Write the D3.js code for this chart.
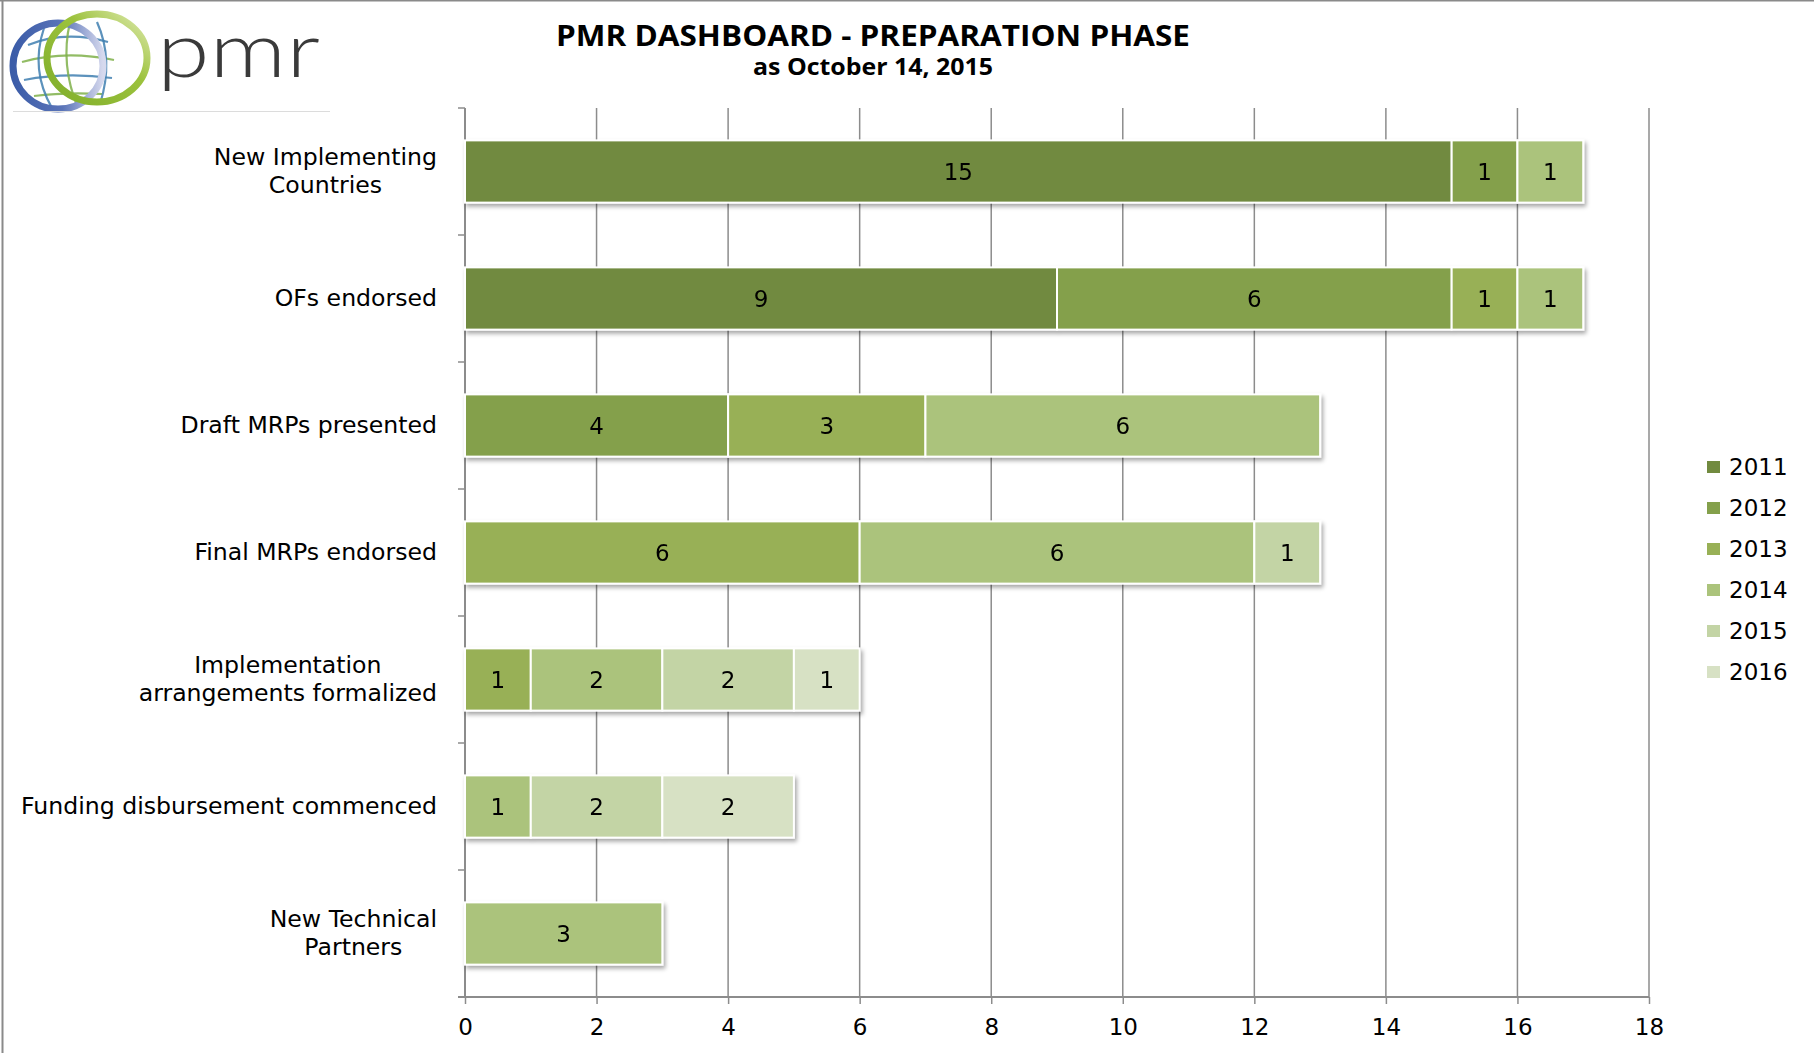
<!DOCTYPE html>
<html>
<head>
<meta charset="utf-8">
<script src="https://d3js.org/d3.v7.min.js"></script>
<style>
  html, body { margin: 0; padding: 0; background: #fff; }
  svg { display: block; }
</style>
</head>
<body>
<div id="chart"></div>
<script>
// categories, top to bottom
var categories = [
    ["New Implementing", "Countries"],
    ["OFs endorsed"],
    ["Draft MRPs presented"],
    ["Final MRPs endorsed"],
    ["Implementation", "arrangements formalized"],
    ["Funding disbursement commenced"],
    ["New Technical", "Partners"]
];

var years = ["2011", "2012", "2013", "2014", "2015", "2016"];

// counts per year, same order as categories
var s2011 = [15, 9, 0, 0, 0, 0, 0];
var s2012 = [1, 6, 4, 0, 0, 0, 0];
var s2013 = [0, 1, 3, 6, 1, 0, 0];
var s2014 = [1, 1, 6, 6, 2, 1, 3];
var s2015 = [0, 0, 0, 1, 2, 2, 0];
var s2016 = [0, 0, 0, 0, 1, 2, 0];

var yearColors = ["#718a3f", "#84a04b", "#98b056", "#abc37b", "#c3d4a5", "#d7e1c4"];
var xTicks = [0, 2, 4, 6, 8, 10, 12, 14, 16, 18];

var W = 1814, H = 1053;
var plotLeft = 465, plotRight = 1649, plotTop = 108, plotBottom = 997;

var svg = d3.select("#chart").append("svg")
              .attr("width", W)
              .attr("height", H);

var defs = svg.append("defs");
defs.append("filter")
      .attr("id", "shadow")
      .attr("x", "-5%").attr("y", "-20%")
      .attr("width", "110%").attr("height", "150%")
    .append("feDropShadow")
      .attr("dx", 2).attr("dy", 3)
      .attr("stdDeviation", 2)
      .attr("flood-color", "#000")
      .attr("flood-opacity", 0.35);

// frame lines (left + top)
svg.append("line").attr("x1", 2.5).attr("x2", 2.5).attr("y1", 0).attr("y2", H)
     .attr("stroke", "#8a8a8a").attr("stroke-width", 2);
svg.append("line").attr("x1", 0).attr("x2", W).attr("y1", 0.5).attr("y2", 0.5)
     .attr("stroke", "#8a8a8a").attr("stroke-width", 2);

// ---- logo ----
var blueGrad = defs.append("linearGradient").attr("id", "blueGrad")
                     .attr("x1", "0%").attr("x2", "100%").attr("y1", "0%").attr("y2", "0%");
blueGrad.append("stop").attr("offset", "0%").attr("stop-color", "#3b5ca8");
blueGrad.append("stop").attr("offset", "55%").attr("stop-color", "#5a74b8");
blueGrad.append("stop").attr("offset", "100%").attr("stop-color", "#d6d9ee");

var greenGrad = defs.append("linearGradient").attr("id", "greenGrad")
                      .attr("x1", "0%").attr("x2", "100%").attr("y1", "100%").attr("y2", "0%");
greenGrad.append("stop").attr("offset", "0%").attr("stop-color", "#7fae2a");
greenGrad.append("stop").attr("offset", "60%").attr("stop-color", "#9cc23d");
greenGrad.append("stop").attr("offset", "100%").attr("stop-color", "#dfeab0");

var logo = svg.append("g");
var globe = [
    "M28,45 Q65,30 108,42", "M22,62 Q65,50 114,60", "M24,80 Q65,72 112,78", "M34,96 Q65,92 102,94",
    "M44,28 Q30,70 52,108", "M70,22 Q60,65 78,108", "M97,22 Q114,60 100,104"
];
logo.selectAll("path.globe")
      .data(globe)
    .enter().append("path")
      .attr("d", d => d)
      .attr("fill", "none")
      .attr("stroke", (d, i) => i % 2 ? "#7fb04a" : "#3f7fb0")
      .attr("stroke-width", 2.2)
      .attr("opacity", 0.85);
logo.append("ellipse")
      .attr("cx", 58).attr("cy", 66).attr("rx", 45).attr("ry", 43)
      .attr("fill", "none").attr("stroke", "url(#blueGrad)").attr("stroke-width", 7);
logo.append("ellipse")
      .attr("cx", 97).attr("cy", 58).attr("rx", 50).attr("ry", 44)
      .attr("fill", "none").attr("stroke", "url(#greenGrad)").attr("stroke-width", 7);
logo.append("text")
      .attr("x", 157).attr("y", 77)
      .attr("textLength", 163)
      .attr("lengthAdjust", "spacingAndGlyphs")
      .style("font-family", "Lato, 'Open Sans', sans-serif")
      .style("font-weight", 300)
      .style("font-size", "76px")
      .style("fill", "#3a3a3a")
      .text("pmr");
logo.append("line").attr("x1", 13).attr("x2", 330).attr("y1", 111.5).attr("y2", 111.5)
      .attr("stroke", "#dcdcdc").attr("stroke-width", 1);

// ---- title ----
svg.append("text")
     .attr("x", 873).attr("y", 46)
     .attr("text-anchor", "middle")
     .attr("textLength", 634)
     .attr("lengthAdjust", "spacingAndGlyphs")
     .style("font-family", "'Open Sans', sans-serif")
     .style("font-weight", "bold")
     .style("font-size", "29px")
     .text("PMR DASHBOARD - PREPARATION PHASE");
svg.append("text")
     .attr("x", 873).attr("y", 75)
     .attr("text-anchor", "middle")
     .attr("textLength", 240)
     .attr("lengthAdjust", "spacingAndGlyphs")
     .style("font-family", "'Open Sans', sans-serif")
     .style("font-weight", "bold")
     .style("font-size", "23px")
     .text("as October 14, 2015");

// ---- scales ----
var x = d3.scaleLinear().domain([0, 18]).range([plotLeft, plotRight]);
var y = d3.scaleBand()
            .domain(d3.range(categories.length))
            .range([plotTop, plotBottom])
            .paddingInner(0.51)
            .paddingOuter(0.255);

var table = categories.map((c, i) => ({
    i: i,
    "2011": s2011[i], "2012": s2012[i], "2013": s2013[i],
    "2014": s2014[i], "2015": s2015[i], "2016": s2016[i]
}));
var stacked = d3.stack().keys(years)(table);
var color = d3.scaleOrdinal().domain(years).range(yearColors);

// gridlines
svg.append("g")
     .selectAll("line")
     .data(xTicks.slice(1))
   .enter().append("line")
     .attr("x1", d => x(d)).attr("x2", d => x(d))
     .attr("y1", plotTop).attr("y2", plotBottom)
     .attr("stroke", "#8c8c8c")
     .attr("stroke-width", 1.5);

// x axis
var xAxis = svg.append("g")
                 .attr("transform", "translate(0," + plotBottom + ")")
                 .call(d3.axisBottom(x).tickValues(xTicks).tickSize(7).tickSizeOuter(0).tickPadding(15));
xAxis.select(".domain").attr("stroke", "#8c8c8c").attr("stroke-width", 2)
       .attr("d", "M" + (plotLeft - 7) + ",0H" + plotRight);
xAxis.selectAll(".tick line").attr("stroke", "#8c8c8c").attr("stroke-width", 1.5);
xAxis.selectAll(".tick text")
       .style("font-family", "'DejaVu Sans', sans-serif")
       .style("font-size", "23px")
       .style("fill", "#000");

// y axis line + boundary ticks
svg.append("line")
     .attr("x1", plotLeft).attr("x2", plotLeft).attr("y1", plotTop).attr("y2", plotBottom)
     .attr("stroke", "#8c8c8c").attr("stroke-width", 2);
svg.append("g")
     .selectAll("line")
     .data(d3.range(categories.length + 1))
   .enter().append("line")
     .attr("x1", plotLeft - 7).attr("x2", plotLeft)
     .attr("y1", d => plotTop + d * y.step())
     .attr("y2", d => plotTop + d * y.step())
     .attr("stroke", "#8c8c8c").attr("stroke-width", 1.5);

// category labels (multi-line blocks centred, block right-aligned)
var labelRight = 437;
categories.forEach(function(lines, i) {
    var cy = y(i) + y.bandwidth() / 2;
    var g = svg.append("g");
    var texts = g.selectAll("text")
                   .data(lines)
                 .enter().append("text")
                   .attr("y", (d, k) => cy + 7 + (k - (lines.length - 1) / 2) * 28)
                   .attr("text-anchor", "middle")
                   .style("font-family", "'DejaVu Sans', sans-serif")
                   .style("font-size", "23.6px")
                   .style("fill", "#000")
                   .text(d => d);
    var maxW = d3.max(texts.nodes(), n => n.getComputedTextLength());
    texts.attr("x", labelRight - maxW / 2);
});

// bars
var rows = svg.append("g").selectAll("g.row")
                .data(categories.map((c, i) => i))
              .enter().append("g")
                .attr("class", "row")
                .attr("filter", "url(#shadow)");

rows.selectAll("rect")
      .data(i => stacked.map(s => ({ key: s.key, v: s[i] })).filter(d => d.v[1] > d.v[0]))
    .enter().append("rect")
      .attr("x", d => x(d.v[0]))
      .attr("y", d => y(d.v.data.i))
      .attr("width", d => x(d.v[1]) - x(d.v[0]))
      .attr("height", y.bandwidth())
      .attr("fill", d => color(d.key))
      .attr("stroke", "#fff")
      .attr("stroke-width", 2);

rows.selectAll("text")
      .data(i => stacked.map(s => ({ key: s.key, v: s[i] })).filter(d => d.v[1] > d.v[0]))
    .enter().append("text")
      .attr("x", d => x((d.v[0] + d.v[1]) / 2))
      .attr("y", d => y(d.v.data.i) + y.bandwidth() / 2 + 8)
      .attr("text-anchor", "middle")
      .style("font-family", "'DejaVu Sans', sans-serif")
      .style("font-size", "23px")
      .style("fill", "#000")
      .text(d => d.v[1] - d.v[0]);

// legend
var legend = svg.append("g").selectAll("g")
                  .data(years)
                .enter().append("g")
                  .attr("transform", (d, i) => "translate(1707," + (467 + i * 41) + ")");
legend.append("rect")
        .attr("x", 0).attr("y", -6)
        .attr("width", 13).attr("height", 12)
        .attr("fill", d => color(d));
legend.append("text")
        .attr("x", 22).attr("y", 8)
        .style("font-family", "'DejaVu Sans', sans-serif")
        .style("font-size", "23px")
        .style("fill", "#000")
        .text(d => d);
</script>
</body>
</html>
